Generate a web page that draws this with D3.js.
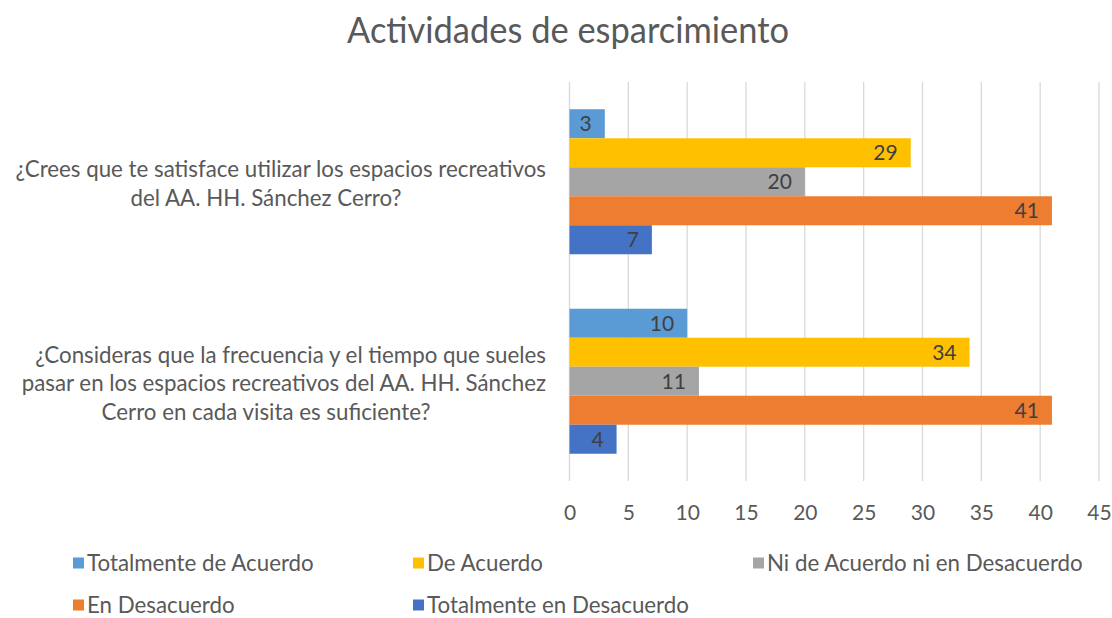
<!DOCTYPE html>
<html>
<head>
<meta charset="utf-8">
<script src="https://cdn.jsdelivr.net/npm/d3@7"></script>
<style>
  html, body { margin: 0; padding: 0; background: #ffffff; }
  svg { display: block; }
</style>
</head>
<body>
<svg id="chart" width="1112" height="618"></svg>
<script>
// ---- data ----
const title = "Actividades de esparcimiento";
const categories = [
  "¿Crees que te satisface utilizar los espacios recreativos del AA. HH. Sánchez Cerro?",
  "¿Consideras que la frecuencia y el tiempo que sueles pasar en los espacios recreativos del AA. HH. Sánchez Cerro en cada visita es suficiente?"
];
const categoryLines = [
  ["¿Crees que te satisface utilizar los espacios recreativos", "del AA. HH. Sánchez Cerro?"],
  ["¿Consideras que la frecuencia y el tiempo que sueles", "pasar en los espacios recreativos del AA. HH. Sánchez", "Cerro en cada visita es suficiente?"]
];
const seriesNames = [
  "Totalmente de Acuerdo",
  "De Acuerdo",
  "Ni de Acuerdo ni en Desacuerdo",
  "En Desacuerdo",
  "Totalmente en Desacuerdo"
];
const totalmenteDeAcuerdo = [3, 10];
const deAcuerdo = [29, 34];
const niDeAcuerdoNiEnDesacuerdo = [20, 11];
const enDesacuerdo = [41, 41];
const totalmenteEnDesacuerdo = [7, 4];
const seriesValues = [totalmenteDeAcuerdo, deAcuerdo, niDeAcuerdoNiEnDesacuerdo, enDesacuerdo, totalmenteEnDesacuerdo];
const seriesColors = ["#5B9BD5", "#FFC000", "#A5A5A5", "#ED7D31", "#4472C4"];
const xTicks = [0, 5, 10, 15, 20, 25, 30, 35, 40, 45];

// ---- layout ----
const FONT = "Lato, 'Open Sans', sans-serif";
const TEXT = "#595959";
const svg = d3.select("#chart");
const plot = { left: 569.5, right: 1099, top: 82, bottom: 481 };

const x = d3.scaleLinear().domain([0, 45]).range([plot.left, plot.right]);
const y0 = d3.scaleBand().domain(d3.range(categories.length))
  .range([plot.top, plot.bottom]).paddingInner(0.273).paddingOuter(0.1366);
const y1 = d3.scaleBand().domain(d3.range(seriesNames.length)).range([0, y0.bandwidth()]);

// title (slightly condensed to mimic the original face)
const tg = svg.append("g").attr("transform", "translate(568, 43)");
const t = tg.append("text")
  .attr("x", 0).attr("y", 0)
  .attr("text-anchor", "middle")
  .attr("font-family", FONT).attr("font-size", 37)
  .attr("fill", TEXT).text(title);
const tw = t.node().getComputedTextLength();
if (tw > 0) tg.attr("transform", `translate(568, 43) scale(${442 / tw}, 1)`);

// gridlines
svg.append("g").selectAll("line").data(xTicks).join("line")
  .attr("x1", d => x(d)).attr("x2", d => x(d))
  .attr("y1", plot.top).attr("y2", plot.bottom)
  .attr("stroke", "#D9D9D9").attr("stroke-width", 1.3);

// x axis
const xAxis = d3.axisBottom(x).tickValues(xTicks).tickSize(0).tickPadding(0);
const gx = svg.append("g").attr("transform", `translate(0, ${plot.bottom + 39})`).call(xAxis);
gx.select(".domain").remove();
gx.selectAll("text").attr("font-family", FONT).attr("font-size", 21).attr("fill", TEXT).attr("dy", 0);

// bars
const groups = svg.append("g").selectAll("g").data(categories).join("g")
  .attr("transform", (d, i) => `translate(0, ${y0(i)})`);

groups.each(function (c, ci) {
  const g = d3.select(this);
  const rows = seriesNames.map((s, si) => ({ si, v: seriesValues[si][ci] }));
  g.selectAll("rect").data(rows).join("rect")
    .attr("x", x(0))
    .attr("y", d => y1(d.si))
    .attr("width", d => x(d.v) - x(0))
    .attr("height", y1.bandwidth())
    .attr("fill", d => seriesColors[d.si]);
  g.selectAll("text.lbl").data(rows).join("text").attr("class", "lbl")
    .attr("x", d => x(d.v) - 13)
    .attr("y", d => y1(d.si) + y1.bandwidth() / 2)
    .attr("dy", "0.36em")
    .attr("text-anchor", "end")
    .attr("font-family", FONT).attr("font-size", 21)
    .attr("fill", "#404040")
    .text(d => d.v);
});

// category labels
const lineH = 28.7;
categoryLines.forEach((lines, ci) => {
  const cy = y0(ci) + y0.bandwidth() / 2;
  const n = lines.length;
  lines.forEach((ln, li) => {
    const last = li === n - 1;
    svg.append("text")
      .attr("x", last ? 266 : 546)
      .attr("y", cy + (li - (n - 1) / 2) * lineH + 2)
      .attr("dy", "0.36em")
      .attr("text-anchor", last ? "middle" : "end")
      .attr("font-family", FONT).attr("font-size", 22.3)
      .attr("fill", TEXT).text(ln);
  });
});

// legend
const legendPos = [[73, 563], [413, 563], [753, 563], [73, 605], [413, 605]];
const lg = svg.append("g").selectAll("g").data(seriesNames).join("g")
  .attr("transform", (d, i) => `translate(${legendPos[i][0]}, ${legendPos[i][1]})`);
lg.append("rect").attr("x", 0).attr("y", -5.5).attr("width", 11).attr("height", 11)
  .attr("fill", (d, i) => seriesColors[i]);
lg.append("text").attr("x", 14).attr("y", 0).attr("dy", "0.36em")
  .attr("font-family", FONT).attr("font-size", 22.3).attr("fill", TEXT).text(d => d);
</script>
</body>
</html>
